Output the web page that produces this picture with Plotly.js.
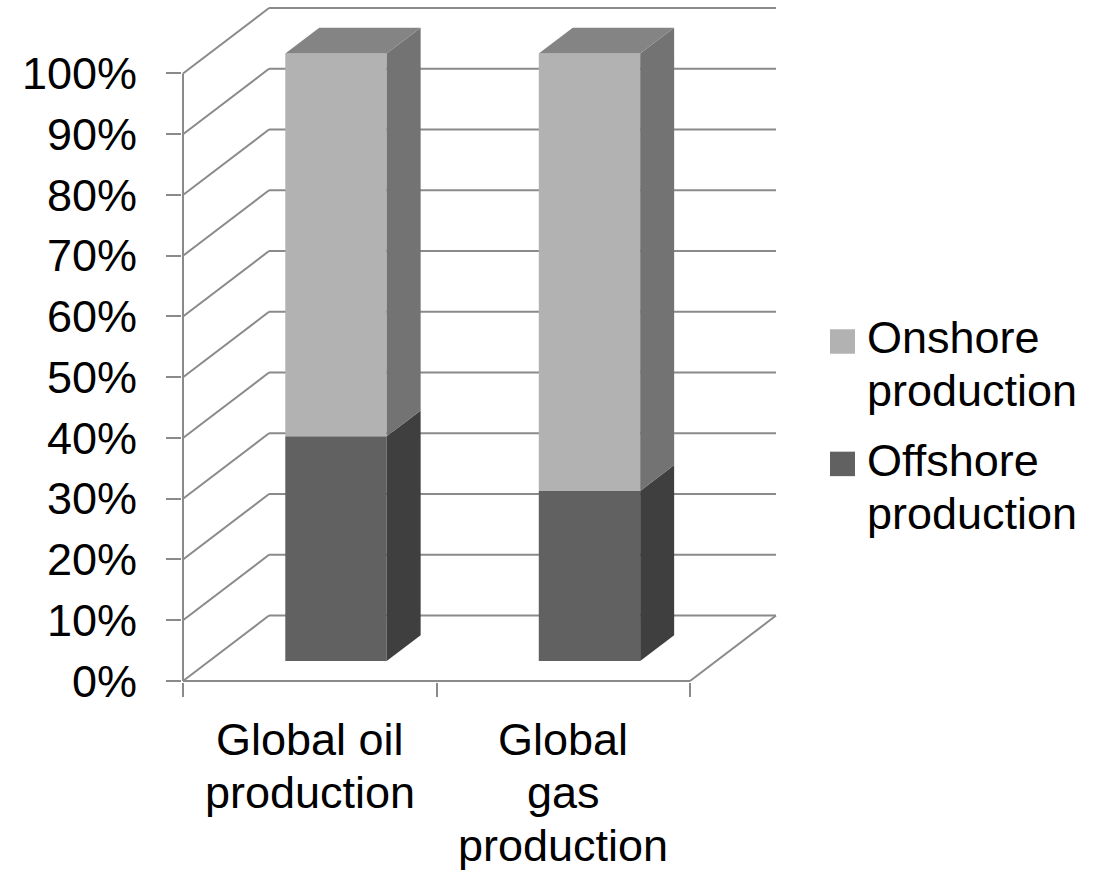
<!DOCTYPE html>
<html>
<head>
<meta charset="utf-8">
<script src="https://cdn.plot.ly/plotly-3.0.1.min.js"></script>
<style>html,body{margin:0;padding:0;background:#fff;}#chart{width:1099px;height:872px;}</style>
</head>
<body>
<div id="chart"></div>
<script>
// ---- data ----
const categories = ['Global oil<br>production', 'Global<br>gas<br>production'];
const seriesNames = ['Onshore production', 'Offshore production'];
const offshore = [37, 28];
const onshore = [63, 72];
const yTickVals = [0, 10, 20, 30, 40, 50, 60, 70, 80, 90, 100];
const yTickText = ['0%', '10%', '20%', '30%', '40%', '50%', '60%', '70%', '80%', '90%', '100%'];

// ---- geometry / style ----
const W = 1099, H = 872;
const pxX = 253.5, pxY = 6.08, pad = 1;
const D = 86 / pxX;        // depth offset in x units
const Dy = 65.5 / pxY;     // depth offset in y units
const f1 = 0.305, f2 = 0.70; // bar front/back depth fractions
const barW = 0.4;
const x0 = -0.5 - pad / pxX, x1 = 1.5 + D + pad / pxX;
const y0 = -pad / pxY, y1 = 100 + Dy + pad / pxY;
const leftPx = 183 - pad, bottomPx = 681 + pad;
const plotW = (x1 - x0) * pxX, plotH = (y1 - y0) * pxY;
const px2paperX = p => (p - leftPx) / plotW;
const px2paperY = p => (bottomPx - p) / plotH;

const gridColor = '#8a8a8a';
const colors = {
  onFront: '#b2b2b2', onSide: '#737373', onTop: '#848484',
  offFront: '#616161', offSide: '#3f3f3f'
};
const FONT = 'Liberation Sans, Arial, sans-serif';

// ---- gridlines & walls as shapes (below traces) ----
const shapes = [];
const line = (xa, ya, xb, yb, w) => ({type: 'line', xref: 'x', yref: 'y', x0: xa, y0: ya, x1: xb, y1: yb,
  line: {color: gridColor, width: w || 2}, layer: 'below'});
yTickVals.forEach(v => {
  shapes.push(line(-0.5, v, -0.5 + D, v + Dy));
  shapes.push(line(-0.5 + D, v + Dy, 1.5 + D, v + Dy));
});
// left axis line, floor front edge, floor right edge
shapes.push(line(-0.5, 0, -0.5, 100));
shapes.push(line(-0.5, 0, 1.5, 0));
shapes.push(line(1.5, 0, 1.5 + D, Dy));

// ---- bars ----
const xs = categories.map((c, i) => i);
const traces = [];
const baseFront = f1 * Dy;
// front faces (bar traces)
traces.push({type: 'bar', name: seriesNames[1], x: xs.map(i => i + f1 * D), y: offshore,
  base: offshore.map(() => baseFront), width: barW, marker: {color: colors.offFront, line: {width: 0}},
  showlegend: false, hoverinfo: 'skip'});
traces.push({type: 'bar', name: seriesNames[0], x: xs.map(i => i + f1 * D), y: onshore,
  base: offshore.map(v => baseFront + v), width: barW, marker: {color: colors.onFront, line: {width: 0}},
  showlegend: false, hoverinfo: 'skip'});

function poly(pts, color) {
  return {type: 'scatter', mode: 'lines', x: pts.map(p => p[0]).concat([pts[0][0]]),
    y: pts.map(p => p[1]).concat([pts[0][1]]), fill: 'toself', fillcolor: color,
    line: {width: 0, color: color}, showlegend: false, hoverinfo: 'skip'};
}
xs.forEach(i => {
  const segs = [[0, offshore[i], colors.offSide], [offshore[i], offshore[i] + onshore[i], colors.onSide]];
  const xr = i + barW / 2;
  segs.forEach(([lo, hi, c]) => {
    traces.push(poly([[xr + f1 * D, lo + f1 * Dy], [xr + f2 * D, lo + f2 * Dy],
                      [xr + f2 * D, hi + f2 * Dy], [xr + f1 * D, hi + f1 * Dy]], c));
  });
  const top = offshore[i] + onshore[i];
  const xl = i - barW / 2;
  traces.push(poly([[xl + f1 * D, top + f1 * Dy], [xr + f1 * D, top + f1 * Dy],
                    [xr + f2 * D, top + f2 * Dy], [xl + f2 * D, top + f2 * Dy]], colors.onTop));
});

// ---- annotations: category labels ----
const annotations = [];
const fs = 45;
const baseOffset = 15.6; // baseline below text middle
const xLabelBaselines = [755, 808, 861];
categories.forEach((c, i) => {
  c.split('<br>').forEach((ln, k) => {
    annotations.push({xref: 'x', yref: 'paper', x: i, y: px2paperY(xLabelBaselines[k] - baseOffset),
      xanchor: 'center', yanchor: 'middle', text: ln, showarrow: false,
      font: {family: FONT, size: fs, color: '#000'}});
  });
});

// ---- legend (manual) ----
const legendItems = [
  {name: seriesNames[0], color: colors.onFront, sq: [830, 329, 855, 353.5], base: [353, 406]},
  {name: seriesNames[1], color: colors.offFront, sq: [830, 451.5, 855, 476], base: [475.5, 528.5]}
];
legendItems.forEach(it => {
  shapes.push({type: 'rect', xref: 'paper', yref: 'paper',
    x0: px2paperX(it.sq[0]), x1: px2paperX(it.sq[2]), y0: px2paperY(it.sq[3]), y1: px2paperY(it.sq[1]),
    fillcolor: it.color, line: {width: 0}});
  it.name.split(' ').forEach((w, k) => {
    annotations.push({xref: 'paper', yref: 'paper', x: px2paperX(865), y: px2paperY(it.base[k] - baseOffset),
      xanchor: 'left', yanchor: 'middle', text: w, showarrow: false,
      font: {family: FONT, size: fs, color: '#000'}});
  });
});

const layout = {
  width: W, height: H,
  margin: {l: leftPx, r: W - leftPx - plotW, t: bottomPx - plotH, b: H - bottomPx, pad: 0, autoexpand: false},
  paper_bgcolor: '#fff', plot_bgcolor: 'rgba(0,0,0,0)',
  showlegend: false, barmode: 'overlay',
  xaxis: {range: [x0, x1], showgrid: false, zeroline: false, showline: false,
    tickmode: 'array', tickvals: [-0.5, 0.5, 1.5], ticks: 'outside', ticklen: 14, tickwidth: 2,
    tickcolor: gridColor, showticklabels: false, fixedrange: true},
  yaxis: {range: [y0, y1], showgrid: false, zeroline: false, showline: false,
    tickmode: 'array', tickvals: yTickVals, ticktext: yTickText, ticks: 'outside', ticklen: 15, tickwidth: 2,
    tickcolor: gridColor, ticklabelstandoff: 20, tickfont: {family: FONT, size: fs, color: '#000'}, fixedrange: true},
  shapes: shapes, annotations: annotations
};
Plotly.newPlot('chart', traces, layout, {displayModeBar: false, staticPlot: true});
</script>
</body>
</html>
